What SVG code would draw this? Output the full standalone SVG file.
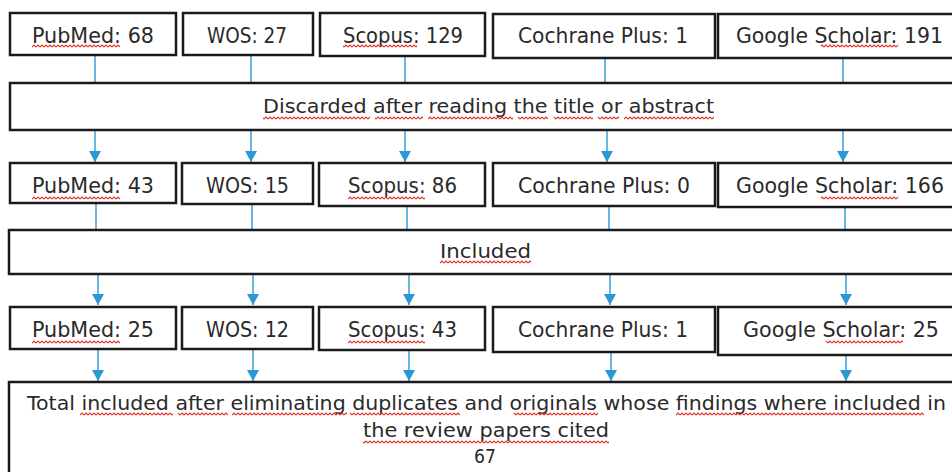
<svg xmlns="http://www.w3.org/2000/svg" width="952" height="472" viewBox="0 0 952 472">
<style>
.box{fill:#fff;stroke:#1a1a1a;stroke-width:2.5}
.t{font-family:"DejaVu Sans","Liberation Sans",sans-serif;font-size:21px;fill:#2a2a2a}
.s{font-size:19.5px}
.c{stroke:#2b98d6;stroke-width:1.4;fill:none}
.a{marker-end:url(#arr)}
.sq{fill:url(#squig)}
</style>
<defs>
<marker id="arr" markerUnits="userSpaceOnUse" markerWidth="12" markerHeight="12" refX="11" refY="6" orient="auto" viewBox="0 0 12 12">
<path d="M0,0 L11,6 L0,12 z" fill="#2b98d6"/>
</marker>
<pattern id="squig" patternUnits="userSpaceOnUse" x="0" y="0" width="4" height="4">
<path d="M0,3 L2,1 L4,3" fill="none" stroke="#e0312b" stroke-width="1.1"/>
</pattern>
</defs>
<rect width="952" height="472" fill="#fff"/>

<g id="connectors">
<path class="c" d="M95,55V83M251,55V83M405,56V83M605,58V83M843,58V83"/>
<path class="c a" d="M95,130V162"/>
<path class="c a" d="M251,130V162"/>
<path class="c a" d="M405,130V162"/>
<path class="c a" d="M607,130V162"/>
<path class="c a" d="M843,130V162"/>
<path class="c" d="M96,203V230M252,204V230M407,206V230M609,206V230M845,207V230"/>
<path class="c a" d="M98,274V305"/>
<path class="c a" d="M253,274V305"/>
<path class="c a" d="M409,274V305"/>
<path class="c a" d="M610,274V305"/>
<path class="c a" d="M846,274V305"/>
<path class="c a" d="M98,349V381"/>
<path class="c a" d="M253,349V381"/>
<path class="c a" d="M409,350V381"/>
<path class="c a" d="M611,352V381"/>
<path class="c a" d="M846,355V381"/>
</g>

<g id="pubmed1"><rect class="box" x="10" y="13" width="166" height="42"/><text class="t" x="32" y="43" textLength="122" lengthAdjust="spacingAndGlyphs">PubMed: 68</text><rect class="sq" x="32" y="44" width="88" height="4"/></g>
<g id="wos1"><rect class="box" x="183" y="13" width="130" height="42"/><text class="t" x="207" y="43" textLength="80" lengthAdjust="spacingAndGlyphs">WOS: 27</text></g>
<g id="scopus1"><rect class="box" x="320" y="13" width="165" height="43"/><text class="t" x="343" y="43" textLength="120" lengthAdjust="spacingAndGlyphs">Scopus: 129</text><rect class="sq" x="343" y="44" width="74" height="4"/></g>
<g id="cochrane1"><rect class="box" x="493" y="14" width="222" height="44"/><text class="t" x="518" y="43" textLength="170" lengthAdjust="spacingAndGlyphs">Cochrane Plus: 1</text></g>
<g id="google1"><rect class="box" x="718" y="14" width="250" height="44"/><text class="t" x="736" y="43" textLength="207" lengthAdjust="spacingAndGlyphs">Google Scholar: 191</text><rect class="sq" x="821" y="44" width="77" height="4"/></g>

<g id="discarded"><rect class="box" x="10" y="83" width="960" height="47"/><text class="t s" x="263" y="113" textLength="451" lengthAdjust="spacingAndGlyphs">Discarded after reading the title or abstract</text>
<rect class="sq" x="263" y="116" width="107" height="4"/><rect class="sq" x="375" y="116" width="48" height="4"/><rect class="sq" x="428" y="116" width="85" height="4"/><rect class="sq" x="518" y="116" width="30" height="4"/><rect class="sq" x="554" y="116" width="39" height="4"/><rect class="sq" x="598" y="116" width="21" height="4"/><rect class="sq" x="624" y="116" width="90" height="4"/></g>

<g id="pubmed2"><rect class="box" x="10" y="163" width="166" height="40"/><text class="t" x="32" y="193" textLength="122" lengthAdjust="spacingAndGlyphs">PubMed: 43</text><rect class="sq" x="32" y="196" width="88" height="4"/></g>
<g id="wos2"><rect class="box" x="182" y="163" width="131" height="41"/><text class="t" x="206" y="193" textLength="83" lengthAdjust="spacingAndGlyphs">WOS: 15</text></g>
<g id="scopus2"><rect class="box" x="319" y="163" width="166" height="43"/><text class="t" x="348" y="193" textLength="109" lengthAdjust="spacingAndGlyphs">Scopus: 86</text><rect class="sq" x="348" y="196" width="77" height="4"/></g>
<g id="cochrane2"><rect class="box" x="493" y="163" width="222" height="43"/><text class="t" x="518" y="193" textLength="172" lengthAdjust="spacingAndGlyphs">Cochrane Plus: 0</text></g>
<g id="google2"><rect class="box" x="718" y="163" width="250" height="44"/><text class="t" x="736" y="193" textLength="208" lengthAdjust="spacingAndGlyphs">Google Scholar: 166</text><rect class="sq" x="821" y="196" width="77" height="4"/></g>

<g id="included"><rect class="box" x="9" y="230" width="960" height="44"/><text class="t s" x="440" y="258" textLength="91" lengthAdjust="spacingAndGlyphs">Included</text><rect class="sq" x="440" y="260" width="91" height="4"/></g>

<g id="pubmed3"><rect class="box" x="10" y="307" width="166" height="42"/><text class="t" x="32" y="337" textLength="122" lengthAdjust="spacingAndGlyphs">PubMed: 25</text><rect class="sq" x="32" y="340" width="88" height="4"/></g>
<g id="wos3"><rect class="box" x="182" y="307" width="131" height="42"/><text class="t" x="206" y="337" textLength="83" lengthAdjust="spacingAndGlyphs">WOS: 12</text></g>
<g id="scopus3"><rect class="box" x="319" y="307" width="166" height="43"/><text class="t" x="348" y="337" textLength="109" lengthAdjust="spacingAndGlyphs">Scopus: 43</text><rect class="sq" x="348" y="340" width="77" height="4"/></g>
<g id="cochrane3"><rect class="box" x="493" y="307" width="222" height="45"/><text class="t" x="518" y="337" textLength="170" lengthAdjust="spacingAndGlyphs">Cochrane Plus: 1</text></g>
<g id="google3"><rect class="box" x="718" y="307" width="250" height="48"/><text class="t" x="743" y="337" textLength="196" lengthAdjust="spacingAndGlyphs">Google Scholar: 25</text><rect class="sq" x="826" y="340" width="77" height="4"/></g>

<g id="total"><rect class="box" x="9" y="382" width="960" height="100"/>
<text class="t s" x="27" y="410" textLength="919" lengthAdjust="spacingAndGlyphs">Total included after eliminating duplicates and originals whose findings where included in</text>
<text class="t s" x="363" y="437" textLength="246" lengthAdjust="spacingAndGlyphs">the review papers cited</text>
<text class="t s" x="474" y="463" textLength="22" lengthAdjust="spacingAndGlyphs">67</text>
<rect class="sq" x="80" y="412" width="93" height="4"/><rect class="sq" x="178" y="412" width="50" height="4"/><rect class="sq" x="232" y="412" width="115" height="4"/><rect class="sq" x="350" y="412" width="110" height="4"/><rect class="sq" x="514" y="412" width="84" height="4"/><rect class="sq" x="676" y="412" width="248" height="4"/>
<rect class="sq" x="363" y="440" width="246" height="4"/>
</g>
</svg>
